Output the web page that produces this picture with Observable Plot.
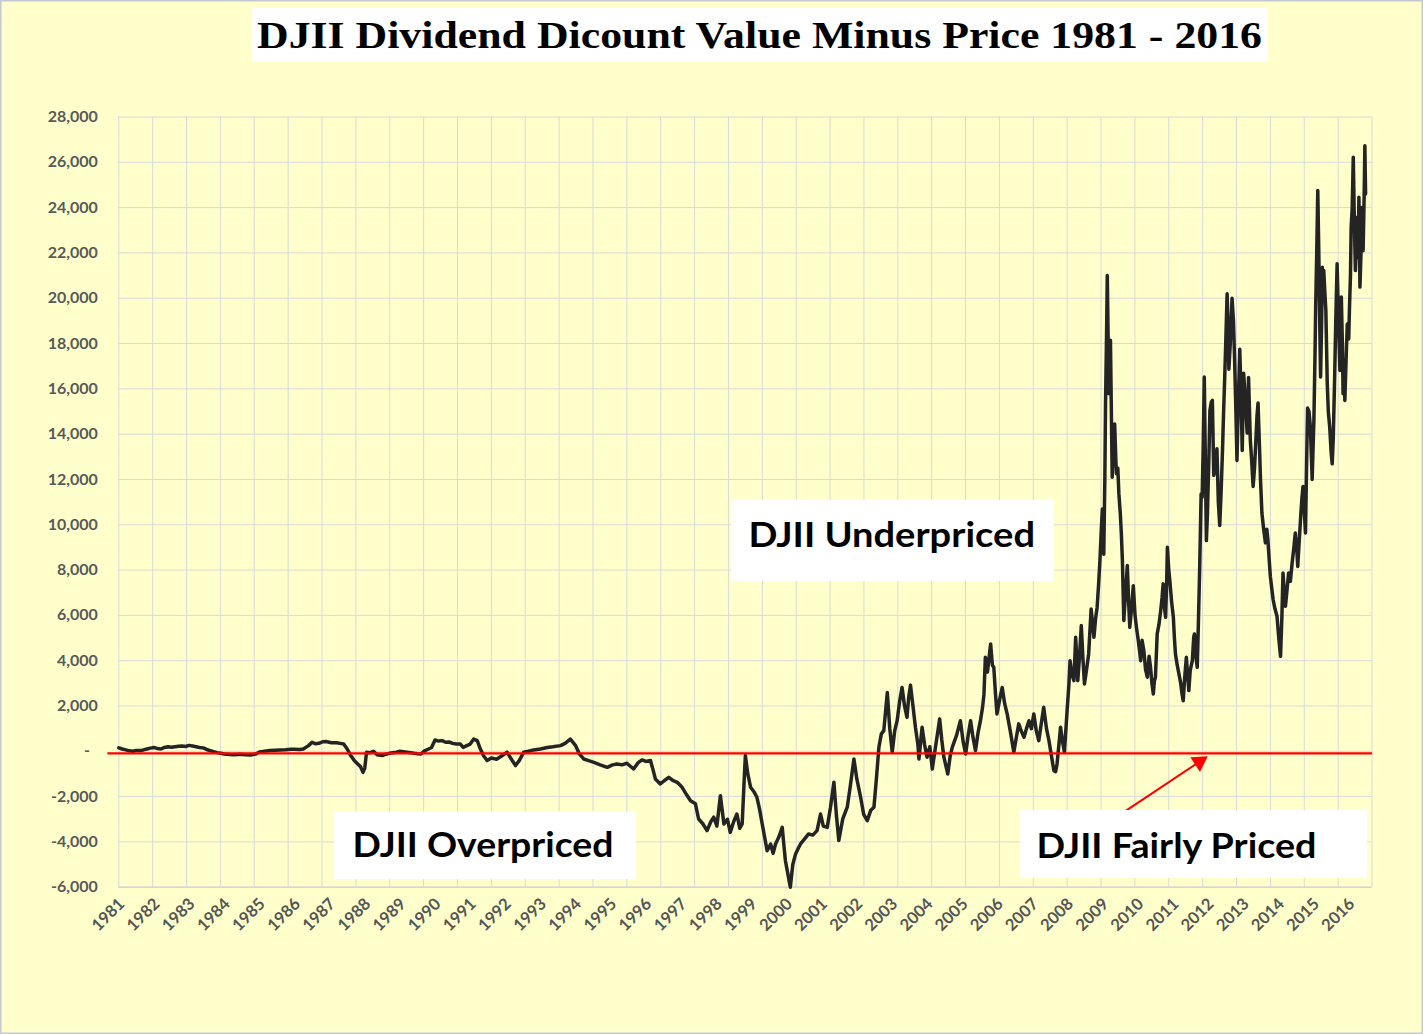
<!DOCTYPE html>
<html>
<head>
<meta charset="utf-8">
<script src="https://cdn.jsdelivr.net/npm/d3@7"></script>
<script src="https://cdn.jsdelivr.net/npm/@observablehq/plot@0.6"></script>
<style>
  html, body { margin: 0; padding: 0; background: #FFFFCC; overflow: hidden; }
  #chart { position: relative; width: 1423px; height: 1034px; }
  #chart svg { position: absolute; left: 0; top: 0; }
</style>
</head>
<body>
<div id="chart"></div>
<script>
// ---------- DATA ----------
const titleText = "DJII Dividend Dicount Value Minus Price 1981 - 2016";
const yearLabels = d3.range(1981, 2017);              // category labels on the x axis
const yTickValues = d3.range(-6000, 28001, 2000);     // y-axis ticks

// decimal year of each sample
const t = [
1981.00,1981.10,1981.20,1981.30,1981.40,1981.50,1981.60,1981.70,1981.80,1981.90,
1982.00,1982.10,1982.20,1982.30,1982.40,1982.50,1982.60,1982.70,1982.80,1982.90,
1983.00,1983.10,1983.20,1983.30,1983.40,1983.50,1983.60,1983.70,1983.80,1983.90,
1984.00,1984.15,1984.30,1984.45,1984.60,1984.75,1984.90,
1985.00,1985.15,1985.30,1985.45,1985.60,1985.75,1985.90,
1986.00,1986.15,1986.25,1986.40,1986.50,1986.60,1986.70,1986.80,1986.90,
1987.05,1987.20,1987.30,1987.40,1987.50,1987.60,1987.70,1987.80,1987.88,1987.95,
1988.00,1988.05,1988.15,1988.25,1988.35,1988.50,1988.60,1988.70,1988.80,1988.90,
1989.00,1989.10,1989.20,1989.30,1989.40,1989.50,1989.60,1989.70,1989.80,1989.90,
1990.00,1990.10,1990.20,1990.30,1990.40,1990.50,1990.60,1990.72,1990.80,1990.90,
1991.00,1991.10,1991.20,1991.29,1991.38,1991.48,1991.60,1991.75,1991.86,1991.95,
1992.05,1992.15,1992.29,1992.40,1992.52,1992.65,1992.81,
1993.00,1993.19,1993.35,1993.57,1993.70,1993.85,
1994.00,1994.10,1994.23,1994.35,1994.52,1994.70,1994.90,
1995.05,1995.18,1995.32,1995.46,1995.55,1995.65,1995.78,1995.89,
1996.00,1996.13,1996.20,1996.27,1996.41,1996.52,1996.65,1996.78,1996.89,
1997.03,1997.15,1997.27,1997.41,1997.50,1997.62,1997.74,1997.85,1997.93,
1998.02,1998.12,1998.22,1998.32,1998.40,1998.50,1998.59,1998.67,1998.74,1998.79,1998.83,1998.90,1998.98,
1999.08,1999.16,1999.24,1999.31,1999.38,1999.45,1999.55,1999.62,1999.69,1999.78,1999.88,1999.93,1999.97,
2000.05,2000.11,2000.18,2000.26,2000.33,2000.40,2000.50,2000.63,2000.75,2000.87,2000.97,
2001.05,2001.16,2001.25,2001.35,2001.42,2001.49,2001.60,2001.73,2001.82,2001.92,
2002.00,2002.11,2002.20,2002.30,2002.40,2002.49,2002.56,2002.63,2002.70,2002.77,2002.87,2002.94,
2003.01,2003.08,2003.15,2003.22,2003.29,2003.36,2003.43,2003.48,2003.53,2003.60,2003.67,2003.74,2003.77,2003.86,2003.93,
2004.00,2004.08,2004.15,2004.24,2004.36,2004.42,2004.48,2004.59,2004.66,2004.72,2004.84,2004.95,
2005.03,2005.10,2005.17,2005.24,2005.31,2005.38,2005.45,2005.52,2005.58,2005.62,2005.66,2005.72,2005.81,2005.86,2005.90,2005.95,2005.99,
2006.07,2006.14,2006.21,2006.28,2006.38,2006.47,2006.54,2006.61,2006.68,2006.76,2006.83,2006.90,2006.97,
2007.04,2007.11,2007.18,2007.25,2007.32,2007.40,2007.47,2007.54,2007.61,2007.66,2007.70,2007.76,2007.80,2007.86,2007.91,2007.99,
2008.04,2008.07,2008.12,2008.18,2008.23,2008.29,2008.34,2008.39,2008.44,2008.48,2008.54,2008.60,2008.67,2008.72,2008.75,2008.80,2008.84,2008.88,2008.92,2008.96,2008.99,
2009.03,2009.06,2009.08,2009.11,2009.13,2009.16,2009.18,2009.20,2009.22,2009.25,2009.27,2009.30,2009.34,2009.37,2009.39,2009.43,2009.46,2009.50,2009.53,2009.56,2009.60,2009.65,2009.70,2009.74,2009.77,2009.82,2009.87,2009.92,2009.96,
2010.02,2010.08,2010.12,2010.17,2010.22,2010.27,2010.32,2010.36,2010.40,2010.44,2010.47,2010.50,2010.55,2010.60,2010.65,2010.69,2010.72,2010.76,2010.79,2010.82,2010.84,2010.88,2010.91,2010.96,
2011.01,2011.04,2011.07,2011.12,2011.17,2011.22,2011.25,2011.29,2011.33,2011.38,2011.42,2011.45,2011.49,2011.55,2011.59,2011.61,2011.65,2011.69,2011.72,2011.76,2011.80,2011.83,2011.86,2011.89,2011.92,2011.95,2011.98,
2012.02,2012.05,2012.09,2012.12,2012.16,2012.20,2012.25,2012.29,2012.33,2012.37,2012.41,2012.44,2012.47,2012.50,2012.54,2012.57,2012.59,2012.63,2012.68,2012.72,2012.75,2012.79,2012.82,2012.86,2012.90,2012.94,2012.97,
2013.01,2013.06,2013.11,2013.15,2013.20,2013.24,2013.28,2013.32,2013.35,2013.39,2013.42,2013.46,2013.49,2013.53,2013.58,2013.63,2013.67,2013.70,2013.74,2013.77,2013.81,2013.85,2013.90,2013.96,
2014.01,2014.06,2014.10,2014.13,2014.17,2014.20,2014.25,2014.29,2014.34,2014.39,2014.44,2014.48,2014.52,2014.55,2014.60,2014.64,2014.67,2014.70,2014.74,2014.77,2014.80,2014.83,2014.87,2014.91,2014.96,
2015.01,2015.04,2015.06,2015.09,2015.12,2015.15,2015.18,2015.20,2015.23,2015.25,2015.27,2015.29,2015.32,2015.35,2015.39,2015.42,2015.46,2015.50,2015.53,2015.56,2015.60,2015.63,2015.67,2015.71,2015.75,2015.79,2015.82,2015.84,2015.87,2015.89,2015.93,2015.96,
2016.00,2016.02,2016.05,2016.07,2016.10,2016.13,2016.16,2016.19,2016.22,2016.24,2016.27,2016.29,2016.32,2016.35,2016.37,2016.39,2016.41,2016.44,2016.46,2016.48
];

// dividend discount value minus price (index points)
const v = [
150,100,60,20,0,40,30,60,100,140,
170,120,100,170,200,180,200,220,230,210,
260,230,200,170,150,80,30,-20,-60,-90,
-120,-140,-150,-130,-150,-160,-120,
-30,0,30,50,60,70,90,
90,80,100,250,400,330,350,420,430,
380,380,350,320,100,-190,-410,-560,-680,-930,
-740,-40,-60,0,-150,-190,-130,-90,-60,-40,
0,-20,-40,-60,-90,-110,-120,20,90,170,
500,450,470,400,410,350,320,320,170,250,
320,540,470,100,-200,-410,-300,-350,-240,-150,
-40,-300,-630,-400,-40,0,60,
100,170,200,250,350,540,
250,-100,-340,-400,-490,-600,-710,
-600,-560,-600,-530,-650,-780,-500,-380,
-450,-410,-800,-1220,-1440,-1300,-1150,-1300,-1370,
-1590,-1900,-2180,-2320,-2990,-3200,-3500,-3100,-2910,
-3300,-1960,-3210,-3000,-3580,-3100,-2770,-3400,-3210,-1500,-190,-1000,-1590,
-1800,-2030,-2600,-3210,-3800,-4390,-4100,-4500,-4090,-3800,-3360,-4200,-4830,
-5500,-6000,-5000,-4530,-4300,-4090,-3900,-3650,-3700,-3500,-2770,
-3300,-3360,-2500,-1370,-2800,-3940,-3000,-2470,-1500,-340,
-1200,-2030,-2800,-3060,-2600,-2470,-1200,170,770,910,2600,1000,
-50,900,1350,2200,2820,2000,1500,2400,2920,2000,1060,300,-340,1060,300,
-260,200,-780,180,1430,500,-260,-1000,-200,180,700,1350,
400,-120,700,1350,600,30,800,1350,1940,2500,4150,3500,4740,3800,3710,2500,1650,
2300,2820,2100,1650,800,-40,600,1210,900,620,1000,1350,1000,
1650,900,470,1200,1940,1000,470,-200,-850,-900,-560,400,1060,400,-40,1870,
3000,4000,3400,3120,5030,3120,4200,5550,4000,2970,3600,4300,6280,5500,5030,5900,6340,7300,8400,9800,10690,
8700,12000,15340,18500,21000,17500,15780,17000,18140,14500,12100,13500,14450,13000,12250,12500,11360,10500,9600,8420,5770,7000,8200,6500,5470,6300,7310,6000,5470,
4800,4000,4900,4440,3600,3270,4200,3710,3000,2530,3100,3270,5180,5600,6210,6800,7390,6300,5920,7500,9010,8000,7530,6600,
5920,5000,4300,3800,3410,3000,2600,2230,3200,4150,3300,2680,3570,4000,5040,5180,4200,3710,5500,8130,11360,11220,13500,16520,13000,9300,10500,
12840,15040,15420,15490,12180,12500,13350,11000,9970,11500,13350,15000,16430,18000,20200,18500,16870,18000,20000,19000,17460,15000,12840,15500,17750,15500,13280,
16690,15500,14050,16500,13750,12800,11690,12500,13460,14800,15370,13500,11990,10520,9800,9200,9800,9340,8400,7720,7200,6690,6300,5960,
5000,4190,6000,7870,7000,6400,7200,7870,7500,8310,9000,9640,9000,8160,9500,10520,11200,11690,10500,9640,12500,15150,15000,14300,12000,
14640,17390,19600,22000,24750,21960,18500,16520,19000,21370,20000,21220,20300,19450,16220,15000,14300,13200,12690,13800,16500,18860,21520,19000,16810,20050,18000,15780,16600,15490,17500,18860,
18200,19450,21000,23130,24000,26220,23500,21220,22500,23570,21800,24460,20490,22000,24010,23000,22100,24500,26730,24600
];

// annotations (data units)
const fairLevel = -90;                                // red "fairly priced" reference line
const fairLineT = [1980.7, 2016.64];
const arrowFrom = {t: 2009.45, v: -2840};
const arrowTo   = {t: 2011.93, v: -280};
const labels = [
  {text: "DJII Underpriced",   box: [731, 500, 323, 81],  x: 748.5, y: 546.5, w: 286.5},
  {text: "DJII Overpriced",    box: [334, 811.5, 302, 67.5], x: 352.5, y: 856.5, w: 261},
  {text: "DJII Fairly Priced", box: [1020, 810, 347, 68],  x: 1036.5, y: 857.5, w: 280}
];

// ---------- BUILD ----------
const series = t.map((d, i) => ({t: d, v: v[i]}));
if (t.length !== v.length) console.error("length mismatch", t.length, v.length);
const fairLine = fairLineT.map(d => ({t: d, v: fairLevel}));

const xDomain = [1981, 2016.663];
const gridX = d3.range(38).map(i => xDomain[0] + i * (xDomain[1] - xDomain[0]) / 37);
const fmtY = d => d === 0 ? "-\u00a0\u00a0" : (d < 0 ? "-" : "") + d3.format(",")(Math.abs(d));

const axisFont = "Lato, 'Open Sans', sans-serif";
const grid = "#d9d9d9";

const chart = Plot.plot({
  width: 1423,
  height: 1034,
  marginLeft: 118.3,
  marginRight: 51.5,
  marginTop: 116.5,
  marginBottom: 147.3,
  style: {background: "#FFFFCC", fontFamily: axisFont, fontSize: "16px", fontWeight: "bold", color: "#595959", overflow: "visible"},
  x: {domain: xDomain},
  y: {domain: [-6000, 28000]},
  marks: [
    Plot.ruleX(gridX, {stroke: grid, strokeWidth: 1}),
    Plot.ruleY(yTickValues.filter(d => d > -6000), {stroke: grid, strokeWidth: 1}),
    Plot.ruleY([-6000], {stroke: "#c9c9d3", strokeWidth: 1.2}),
    Plot.axisY({ticks: yTickValues, tickSize: 0, tickPadding: 21, tickFormat: fmtY, label: null, fill: "#595959"}),
    Plot.axisX({ticks: yearLabels, tickSize: 0, tickRotate: -45, tickPadding: 14, dx: 3, fontSize: 16.5, tickFormat: d => String(d), label: null, fill: "#555555"}),
    Plot.line(series, {x: "t", y: "v", stroke: "#242424", strokeWidth: 3.5, strokeLinejoin: "round"}),
    Plot.line(fairLine, {x: "t", y: "v", stroke: "#ff0000", strokeWidth: 2.3}),
    Plot.link([{x1: arrowFrom.t, y1: arrowFrom.v, x2: arrowTo.t, y2: arrowTo.v}],
      {x1: "x1", y1: "y1", x2: "x2", y2: "y2", stroke: "#ff0000", strokeWidth: 2}),
    Plot.dot([arrowTo], {x: "t", y: "v", symbol: "triangle", r: 6.5, fill: "#ff0000", stroke: "none",
      rotate: 56.3, dx: -6.3, dy: 4.2})
  ]
});

document.getElementById("chart").appendChild(chart);

// ---------- overlays: title, annotation boxes, border ----------
const svg = d3.select(chart);
const over = svg.append("g").attr("text-anchor", "start");

over.append("rect").attr("x", 252).attr("y", 7.5).attr("width", 1016).attr("height", 54.5).attr("fill", "#ffffff");
over.append("text")
  .attr("x", 257).attr("y", 48.3).attr("text-anchor", "start")
  .attr("textLength", 1005).attr("lengthAdjust", "spacingAndGlyphs")
  .attr("font-family", "'Liberation Serif', 'DejaVu Serif', serif")
  .attr("font-weight", "bold").attr("font-size", 38.5).attr("fill", "#000")
  .text(titleText);

for (const a of labels) {
  over.append("rect").attr("x", a.box[0]).attr("y", a.box[1]).attr("width", a.box[2]).attr("height", a.box[3]).attr("fill", "#ffffff");
  over.append("text")
    .attr("x", a.x).attr("y", a.y).attr("text-anchor", "start")
    .attr("textLength", a.w).attr("lengthAdjust", "spacingAndGlyphs")
    .attr("font-family", "Lato, 'Open Sans', sans-serif")
    .attr("font-weight", "bold").attr("font-size", 34).attr("fill", "#000")
    .text(a.text);
}

over.append("rect").attr("x", 0.75).attr("y", 0.75).attr("width", 1421.5).attr("height", 1032.5)
  .attr("fill", "none").attr("stroke", "#c4c7d4").attr("stroke-width", 1.5);
</script>
</body>
</html>
